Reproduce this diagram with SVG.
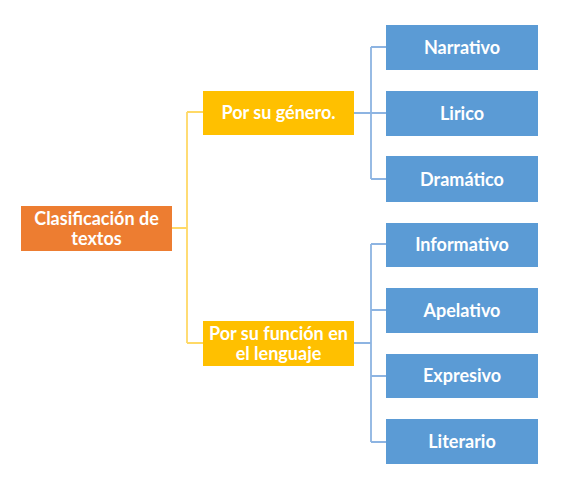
<svg xmlns="http://www.w3.org/2000/svg" width="571" height="480" viewBox="0 0 571 480">
<style>
.t{font-family:Lato,"Open Sans","Liberation Sans",sans-serif;font-weight:bold;font-size:18px;fill:#fff;text-anchor:middle}
.root{fill:#ED7D31}
.l1{fill:#FFC000}
.l2{fill:#5B9BD5}
.cy{fill:none;stroke:#FFD966;stroke-width:1.8}
.cb{fill:none;stroke:#8DB4E2;stroke-width:1.8}
</style>
<rect width="571" height="480" fill="#fff"/>
<g id="connectors">
<path class="cy" d="M172,228 H187 M187,112 V343 M187,112 H203 M187,343 H203"/>
<path class="cb" d="M354,113 H371 M371,47 V179 M371,47 H386 M371,113 H386 M371,179 H386"/>
<path class="cb" d="M354,343 H371 M371,244 V442 M371,244 H386 M371,310 H386 M371,376 H386 M371,442 H386"/>
</g>
<g id="root"><rect class="root" x="21" y="206" width="151" height="45"/><text class="t" x="96.5" y="224.5">Clasificación de</text><text class="t" x="96.5" y="244.5">textos</text></g>
<g id="genero"><rect class="l1" x="203" y="91" width="151" height="44"/><text class="t" x="278.5" y="119">Por su género.</text></g>
<g id="funcion"><rect class="l1" x="203" y="321" width="151" height="45"/><text class="t" x="278.5" y="339.5">Por su función en</text><text class="t" x="278.5" y="359.5">el lenguaje</text></g>
<g id="narrativo"><rect class="l2" x="386" y="25" width="152" height="45"/><text class="t" x="462" y="54">Narrativo</text></g>
<g id="lirico"><rect class="l2" x="386" y="91" width="152" height="45"/><text class="t" x="462" y="120">Lirico</text></g>
<g id="dramatico"><rect class="l2" x="386" y="156" width="152" height="46"/><text class="t" x="462" y="185.5">Dramático</text></g>
<g id="informativo"><rect class="l2" x="386" y="223" width="152" height="44"/><text class="t" x="462" y="251">Informativo</text></g>
<g id="apelativo"><rect class="l2" x="386" y="288" width="152" height="45"/><text class="t" x="462" y="317">Apelativo</text></g>
<g id="expresivo"><rect class="l2" x="386" y="354" width="152" height="44"/><text class="t" x="462" y="382">Expresivo</text></g>
<g id="literario"><rect class="l2" x="386" y="419" width="152" height="45"/><text class="t" x="462" y="448">Literario</text></g>
</svg>
